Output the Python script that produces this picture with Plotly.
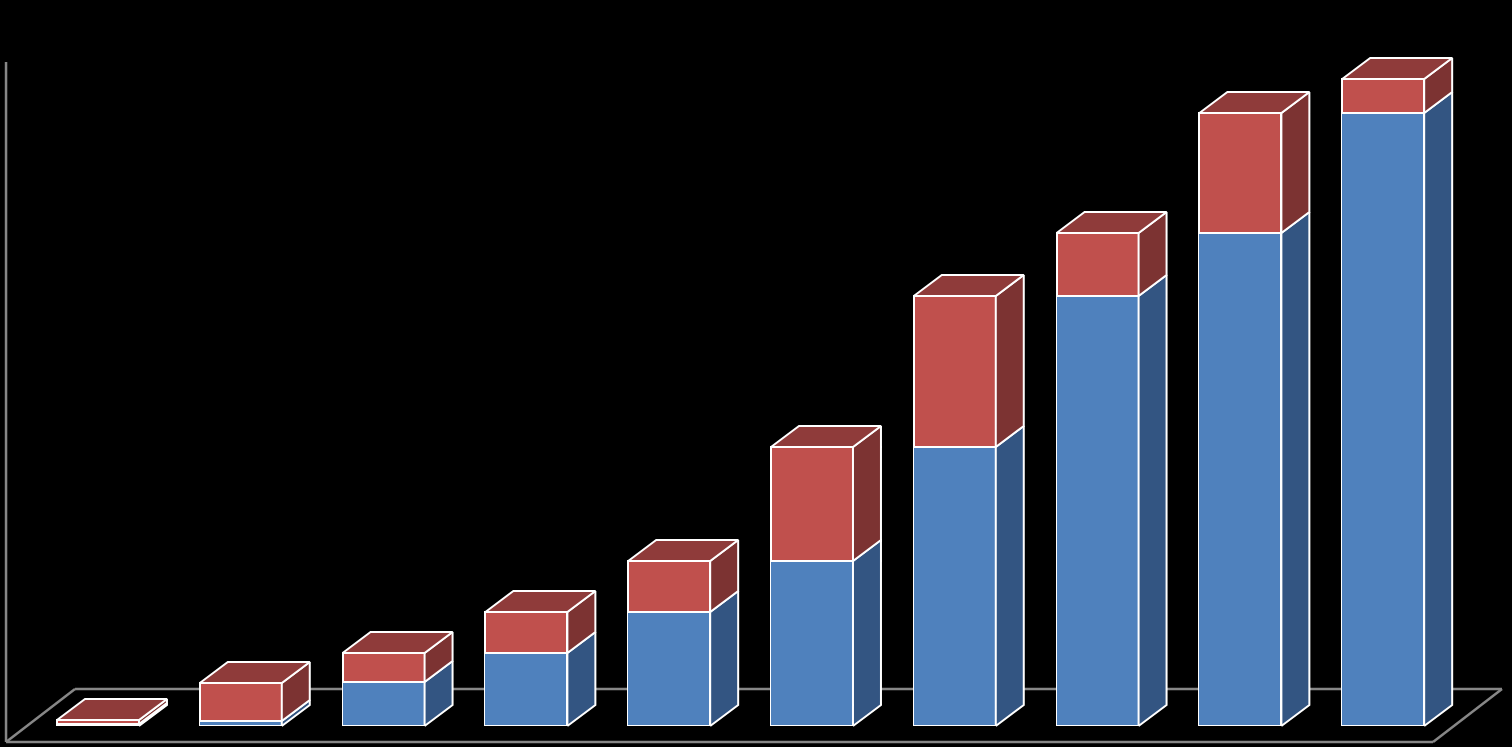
import plotly.graph_objects as go

# ---- data (arbitrary units) ----
categories = [0, 1, 2, 3, 4, 5, 6, 7, 8, 9]
blue_values = [2, 5, 44, 73, 114, 165, 279, 430, 493, 613]
red_values = [4, 38, 29, 41, 51, 114, 151, 63, 120, 34]

# ---- style ----
BLUE_FRONT = "#4F81BD"
BLUE_SIDE = "#335582"
RED_FRONT = "#C0504D"
RED_SIDE = "#7C3332"
RED_TOP = "#8F3B3A"
EDGE = "#FFFFFF"
GRID = "#878787"

BAR_W = 0.574      # bar width in category units
DX = 0.196         # 3-D depth, x (category units)
DY = 21            # 3-D depth, y (value units)

fig = go.Figure()

# front faces
fig.add_trace(go.Bar(x=categories, y=blue_values, width=BAR_W,
                     marker=dict(color=BLUE_FRONT, line=dict(color=EDGE, width=1.5)),
                     hoverinfo="skip", showlegend=False))
fig.add_trace(go.Bar(x=categories, y=red_values, width=BAR_W,
                     marker=dict(color=RED_FRONT, line=dict(color=EDGE, width=2)),
                     hoverinfo="skip", showlegend=False))


def poly(xs, ys, color):
    fig.add_trace(go.Scatter(x=xs + [xs[0]], y=ys + [ys[0]], mode="lines",
                             fill="toself", fillcolor=color,
                             line=dict(color=EDGE, width=2),
                             hoverinfo="skip", showlegend=False))


for c, b, r in zip(categories, blue_values, red_values):
    xl = c - BAR_W / 2
    xr = c + BAR_W / 2
    # blue side
    poly([xr, xr + DX, xr + DX, xr], [0, DY, b + DY, b], BLUE_SIDE)
    # red side
    poly([xr, xr + DX, xr + DX, xr], [b, b + DY, b + r + DY, b + r], RED_SIDE)
    # top
    t = b + r
    poly([xl, xl + DX, xr + DX, xr], [t, t + DY, t + DY, t], RED_TOP)

# floor and wall (axis decoration)
X_FL, X_FR = -0.644, 9.349     # front floor edge
FDX, FDY = 0.483, 53           # floor depth
Y_F = -16
Y_WALL = 664
shapes = [
    dict(type="line", x0=X_FL, y0=Y_F, x1=X_FR, y1=Y_F),
    dict(type="line", x0=X_FL + FDX, y0=Y_F + FDY, x1=X_FR + FDX, y1=Y_F + FDY),
    dict(type="line", x0=X_FL, y0=Y_F, x1=X_FL + FDX, y1=Y_F + FDY),
    dict(type="line", x0=X_FR, y0=Y_F, x1=X_FR + FDX, y1=Y_F + FDY),
    dict(type="line", x0=X_FL, y0=Y_F, x1=X_FL, y1=Y_WALL),
]
for s in shapes:
    s.update(xref="x", yref="y", layer="below", line=dict(color=GRID, width=2.5))

fig.update_layout(
    width=1512, height=747,
    margin=dict(l=0, r=0, t=0, b=0),
    paper_bgcolor="black", plot_bgcolor="black",
    barmode="stack", bargap=0,
    shapes=shapes,
    xaxis=dict(range=[-98 / 142.8, (1512 - 98) / 142.8], visible=False, fixedrange=True),
    yaxis=dict(range=[-21, 726], visible=False, fixedrange=True),
)

fig.write_html("out.html", config={"displayModeBar": False},
               post_script="document.body.style.margin='0';document.body.style.background='black';document.body.style.overflow='hidden';")
